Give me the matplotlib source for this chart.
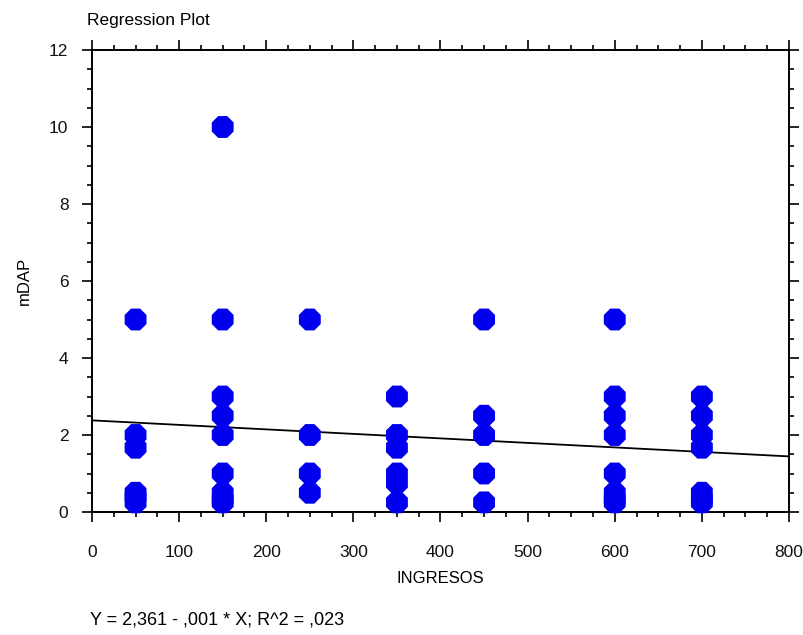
import matplotlib
matplotlib.use("Agg")
import matplotlib.pyplot as plt
import numpy as np
from matplotlib.ticker import MultipleLocator

plt.rcParams['font.family'] = ['Liberation Sans', 'DejaVu Sans']

# Data
ingresos = [50, 50, 50, 50, 50, 50,
            150, 150, 150, 150, 150, 150, 150, 150, 150,
            250, 250, 250, 250,
            350, 350, 350, 350, 350, 350,
            450, 450, 450, 450, 450,
            600, 600, 600, 600, 600, 600, 600, 600,
            700, 700, 700, 700, 700, 700, 700]
mdap = [5, 2, 1.67, 0.5, 0.4, 0.25,
        10, 5, 3, 2.5, 2, 1, 0.5, 0.33, 0.25,
        5, 2, 1, 0.5,
        3, 2, 1.67, 1, 0.75, 0.25,
        5, 2.5, 2, 1, 0.25,
        5, 3, 2.5, 2, 1, 0.5, 0.33, 0.25,
        3, 2.5, 2, 1.67, 0.5, 0.33, 0.25]

intercept = 2.38
slope = -0.00117
x_line = [0, 800]

x_ticks = [0, 100, 200, 300, 400, 500, 600, 700, 800]
y_ticks = [0, 2, 4, 6, 8, 10, 12]

fig = plt.figure(figsize=(8.04, 6.35), dpi=100)
ax = fig.add_axes([92/804, 1-512/635, (789-92)/804, (512-50)/635])

ax.scatter(ingresos, mdap, s=290, color='#0000ee', edgecolors='none', zorder=3, clip_on=False, marker='8')
y_line = [intercept + slope * x for x in x_line]
ax.plot(x_line, y_line, color='black', linewidth=1.3, zorder=2)

ax.set_xlim(0, 800)
ax.set_ylim(0, 12)
ax.set_xticks(x_ticks)
ax.set_yticks(y_ticks)
ax.xaxis.set_minor_locator(MultipleLocator(25))
ax.yaxis.set_minor_locator(MultipleLocator(0.5))
ax.tick_params(which='both', direction='out', top=True, right=True,
               labeltop=False, labelright=False, width=1.2, color='black')
ax.tick_params(which='major', length=7, labelsize=12.5, labelcolor='#111111')
ax.tick_params(which='minor', length=3.5)
ax.tick_params(axis='x', which='major', pad=17)
ax.tick_params(axis='y', which='major', pad=10)
for sp in ax.spines.values():
    sp.set_linewidth(1.4)

ax.set_xlabel('INGRESOS', fontsize=12, labelpad=8)
ax.set_ylabel('mDAP', fontsize=12, labelpad=12)

fig.text(87/804, 1-20/635, 'Regression Plot', fontsize=12.5, va='center', ha='left')
fig.text(90/804, 1-620/635, 'Y = 2,361 - ,001 * X; R^2 = ,023', fontsize=13, va='center', ha='left')

fig.savefig('out.png', dpi=100)
